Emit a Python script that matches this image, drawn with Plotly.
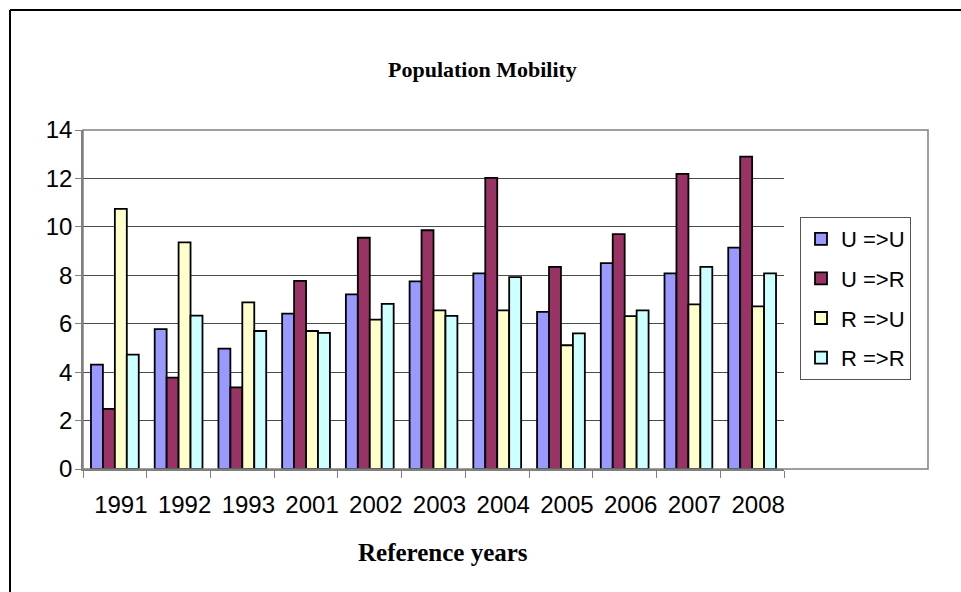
import plotly.graph_objects as go

years = ["1991", "1992", "1993", "2001", "2002", "2003", "2004", "2005", "2006", "2007", "2008"]
u_to_u = [4.31, 5.78, 4.97, 6.42, 7.21, 7.75, 8.08, 6.49, 8.50, 8.08, 9.14]
u_to_r = [2.48, 3.77, 3.37, 7.77, 9.55, 9.86, 12.02, 8.35, 9.70, 12.19, 12.90]
r_to_u = [10.74, 9.36, 6.88, 5.70, 6.17, 6.55, 6.55, 5.11, 6.31, 6.80, 6.72]
r_to_r = [4.72, 6.33, 5.70, 5.62, 6.82, 6.32, 7.92, 5.60, 6.55, 8.35, 8.08]
series_names = ["U =>U", "U =>R", "R =>U", "R =>R"]
series_colors = ["#9999FF", "#993366", "#FFFFCC", "#CCFFFF"]

W, H = 961, 592
def px(x):
    return x / W
def py(y):
    return 1 - y / H

fig = go.Figure()
for i, (name, vals, col) in enumerate(zip(series_names, [u_to_u, u_to_r, r_to_u, r_to_r], series_colors)):
    fig.add_trace(go.Bar(
        x=years, y=vals, name=name, legendgroup=str(i),
        marker=dict(color=col, line=dict(color="black", width=1.8)),
    ))

fig.update_layout(
    width=W, height=H,
    margin=dict(l=0, r=0, t=0, b=0, autoexpand=False),
    paper_bgcolor="white", plot_bgcolor="white",
    barmode="group", bargap=0.25, bargroupgap=0,
    font=dict(family="Liberation Sans, Arial, sans-serif", color="black"),
    showlegend=True,
    legend=dict(
        x=px(800), y=py(217), xanchor="left", yanchor="top",
        bordercolor="#555555", borderwidth=1, bgcolor="white",
        font=dict(size=22, family="Liberation Sans, Arial, sans-serif"),
        tracegroupgap=8, itemwidth=30, traceorder="grouped",
    ),
    xaxis=dict(
        domain=[px(83), px(784)], automargin=False,
        showgrid=False, showline=True, linecolor="#808080", linewidth=1.5,
        ticks="outside", ticklen=7, tickcolor="#808080", tickson="boundaries",
        tickfont=dict(size=24), ticklabelstandoff=13, ticklabelshift=6,
    ),
    yaxis=dict(
        domain=[py(469), py(130)], automargin=False,
        range=[0, 14], dtick=2, tick0=0,
        showgrid=True, gridcolor="#4a4a4a", gridwidth=1,
        showline=True, linecolor="#808080", linewidth=1.5,
        ticks="outside", ticklen=6, tickcolor="#808080",
        tickfont=dict(size=24), zeroline=False, ticklabelstandoff=-2,
    ),
    annotations=[
        dict(text="<b>Population Mobility</b>", x=px(482), y=py(70), xref="paper", yref="paper",
             showarrow=False, xanchor="center", yanchor="middle",
             font=dict(family="Liberation Serif, Times New Roman, serif", size=22, color="black")),
        dict(text="<b>Reference years</b>", x=px(443), y=py(552), xref="paper", yref="paper",
             showarrow=False, xanchor="center", yanchor="middle",
             font=dict(family="Liberation Serif, Times New Roman, serif", size=25, color="black")),
    ],
    shapes=[
        dict(type="rect", xref="paper", yref="paper", x0=px(83), x1=px(928), y0=py(469), y1=py(130),
             line=dict(color="#808080", width=1.5), fillcolor="rgba(0,0,0,0)", layer="above"),
        dict(type="line", xref="paper", yref="paper", x0=px(10), x1=1, y0=py(10), y1=py(10),
             line=dict(color="black", width=2)),
        dict(type="line", xref="paper", yref="paper", x0=px(10), x1=px(10), y0=py(10), y1=0,
             line=dict(color="black", width=2)),
    ],
)

fig.write_html("out.html", config={"displayModeBar": False},
               post_script="document.body.style.margin='0';")
